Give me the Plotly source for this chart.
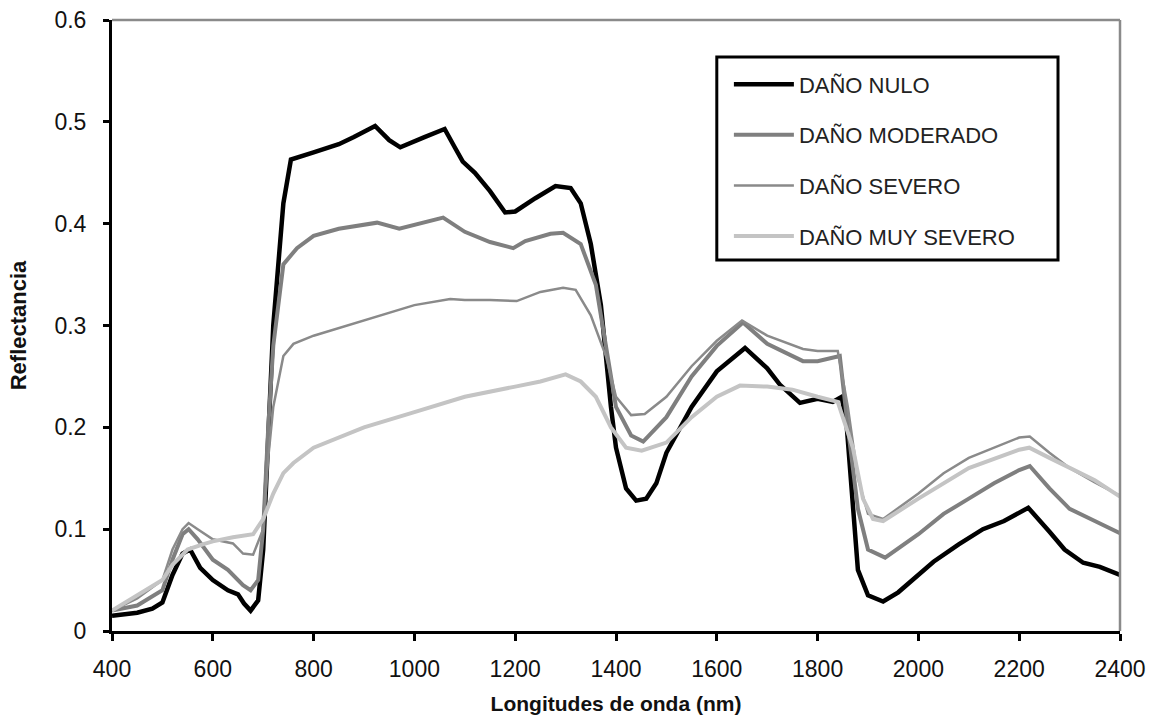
import plotly.graph_objects as go

wl_nulo = [400, 450, 480, 500, 520, 540, 555, 575, 600, 630, 650, 662, 675, 690, 700, 710, 720, 740, 755, 800, 850, 880, 922, 950, 972, 1020, 1060, 1080, 1096, 1120, 1150, 1180, 1200, 1240, 1280, 1310, 1330, 1350, 1370, 1390, 1400, 1420, 1440, 1460, 1480, 1500, 1550, 1600, 1656, 1700, 1725, 1765, 1800, 1830, 1848, 1858, 1870, 1880, 1900, 1930, 1960, 2000, 2030, 2080, 2128, 2170, 2218, 2261, 2290, 2327, 2360, 2400]
r_nulo = [0.015, 0.018, 0.022, 0.028, 0.055, 0.076, 0.080, 0.062, 0.050, 0.040, 0.036, 0.027, 0.020, 0.030, 0.080, 0.200, 0.300, 0.420, 0.463, 0.470, 0.478, 0.485, 0.496, 0.482, 0.475, 0.485, 0.493, 0.475, 0.461, 0.450, 0.432, 0.411, 0.412, 0.425, 0.437, 0.435, 0.420, 0.380, 0.320, 0.220, 0.180, 0.140, 0.128, 0.130, 0.145, 0.175, 0.220, 0.255, 0.278, 0.258, 0.242, 0.224, 0.228, 0.225, 0.230, 0.200, 0.120, 0.060, 0.035, 0.029, 0.038, 0.055, 0.068, 0.085, 0.100, 0.108, 0.121, 0.097, 0.080, 0.067, 0.063, 0.055]

wl_mod = [400, 450, 500, 520, 540, 552, 570, 600, 630, 660, 675, 690, 700, 710, 720, 740, 767, 800, 850, 926, 970, 1000, 1057, 1100, 1150, 1196, 1220, 1270, 1295, 1330, 1360, 1380, 1400, 1430, 1454, 1500, 1550, 1600, 1652, 1700, 1771, 1800, 1844, 1860, 1880, 1900, 1934, 2000, 2050, 2100, 2150, 2200, 2221, 2260, 2300, 2350, 2400]
r_mod = [0.020, 0.025, 0.040, 0.070, 0.095, 0.100, 0.090, 0.070, 0.060, 0.045, 0.040, 0.050, 0.100, 0.200, 0.280, 0.360, 0.376, 0.388, 0.395, 0.401, 0.395, 0.399, 0.406, 0.392, 0.382, 0.376, 0.383, 0.390, 0.391, 0.380, 0.340, 0.280, 0.220, 0.192, 0.186, 0.210, 0.250, 0.280, 0.303, 0.282, 0.265, 0.265, 0.270, 0.200, 0.120, 0.080, 0.072, 0.095, 0.115, 0.130, 0.145, 0.158, 0.162, 0.140, 0.120, 0.108, 0.096]

wl_sev = [400, 450, 500, 520, 540, 552, 570, 600, 640, 660, 680, 700, 710, 720, 740, 760, 800, 900, 1000, 1071, 1100, 1150, 1203, 1250, 1295, 1320, 1350, 1380, 1400, 1430, 1457, 1500, 1550, 1600, 1650, 1700, 1771, 1800, 1840, 1860, 1880, 1900, 1930, 2000, 2050, 2100, 2150, 2200, 2221, 2260, 2300, 2350, 2400]
r_sev = [0.020, 0.032, 0.050, 0.080, 0.100, 0.106, 0.100, 0.090, 0.086, 0.076, 0.075, 0.100, 0.170, 0.220, 0.270, 0.282, 0.290, 0.305, 0.320, 0.326, 0.325, 0.325, 0.324, 0.333, 0.337, 0.335, 0.310, 0.270, 0.230, 0.212, 0.213, 0.230, 0.260, 0.285, 0.305, 0.290, 0.277, 0.275, 0.275, 0.220, 0.150, 0.115, 0.110, 0.135, 0.155, 0.170, 0.180, 0.190, 0.191, 0.175, 0.160, 0.146, 0.133]

wl_muy = [400, 450, 500, 520, 550, 580, 600, 640, 680, 700, 720, 740, 760, 800, 900, 1000, 1100, 1200, 1250, 1300, 1330, 1360, 1390, 1420, 1451, 1500, 1550, 1600, 1646, 1700, 1750, 1800, 1840, 1870, 1890, 1910, 1930, 2000, 2100, 2200, 2220, 2260, 2300, 2350, 2400]
r_muy = [0.020, 0.035, 0.050, 0.065, 0.080, 0.085, 0.088, 0.092, 0.095, 0.110, 0.135, 0.155, 0.165, 0.180, 0.200, 0.215, 0.230, 0.240, 0.245, 0.252, 0.245, 0.230, 0.200, 0.180, 0.177, 0.185, 0.210, 0.230, 0.241, 0.240, 0.237, 0.230, 0.225, 0.180, 0.130, 0.110, 0.108, 0.130, 0.160, 0.178, 0.180, 0.170, 0.160, 0.148, 0.132]

names = ["DAÑO NULO", "DAÑO MODERADO", "DAÑO SEVERO", "DAÑO MUY SEVERO"]
xs = [wl_nulo, wl_mod, wl_sev, wl_muy]
ys = [r_nulo, r_mod, r_sev, r_muy]
colors = ["#000000", "#7f7f7f", "#8a8a8a", "#c4c4c4"]
widths = [4.5, 4, 2.5, 4]

fig = go.Figure()
for i in range(4):
    fig.add_trace(go.Scatter(x=xs[i], y=ys[i], mode="lines", name=names[i],
                             line=dict(color=colors[i], width=widths[i]),
                             legendgroup=str(i)))

font = "Liberation Sans, Arial, sans-serif"
fig.update_layout(
    width=1149, height=725,
    margin=dict(l=112, r=29, t=20, b=94),
    plot_bgcolor="white", paper_bgcolor="white",
    font=dict(family=font, size=22, color="#111"),
    showlegend=True,
    legend=dict(x=0.612, y=0.929, xanchor="left", yanchor="top",
                borderwidth=0, bgcolor="rgba(0,0,0,0)",
                font=dict(size=22, color="#222"), tracegroupgap=19,
                traceorder="grouped", itemwidth=60),
    xaxis=dict(range=[400, 2400], tickmode="array",
               tickvals=[400, 600, 800, 1000, 1200, 1400, 1600, 1800, 2000, 2200, 2400],
               showgrid=False, zeroline=False, showline=True, linecolor="black", linewidth=3,
               ticks="outside", ticklen=7, tickwidth=3, tickcolor="black",
               tickfont=dict(size=23), ticklabelstandoff=8, automargin=False,
               ticklabeloverflow="allow",
               title=dict(text="<b>Longitudes de onda (nm)</b>", font=dict(size=21), standoff=16)),
    yaxis=dict(range=[0, 0.6], tickvals=[0, 0.1, 0.2, 0.3, 0.4, 0.5, 0.6],
               ticktext=["0", "0.1", "0.2", "0.3", "0.4", "0.5", "0.6"],
               showgrid=False, zeroline=False, showline=True, linecolor="black", linewidth=3,
               ticks="outside", ticklen=6, tickwidth=3, tickcolor="black",
               tickfont=dict(size=23), ticklabelstandoff=12, automargin=False,
               ticklabeloverflow="allow",
               title=dict(text="<b>Reflectancia</b>", font=dict(size=22), standoff=22)),
    shapes=[
        dict(type="line", xref="paper", yref="paper", x0=0, x1=1, y0=1, y1=1,
             line=dict(color="#8a8a8a", width=2.5)),
        dict(type="line", xref="paper", yref="paper", x0=1, x1=1, y0=0, y1=1,
             line=dict(color="#8a8a8a", width=2.5)),
        dict(type="rect", xref="paper", yref="paper", x0=0.600, x1=0.9385, y0=0.6072, y1=0.9394,
             line=dict(color="black", width=3), fillcolor="rgba(0,0,0,0)"),
    ],
)

fig.write_html("out.html", config={"displayModeBar": False},
               post_script="document.body.style.margin='0';document.body.style.overflow='hidden';")
